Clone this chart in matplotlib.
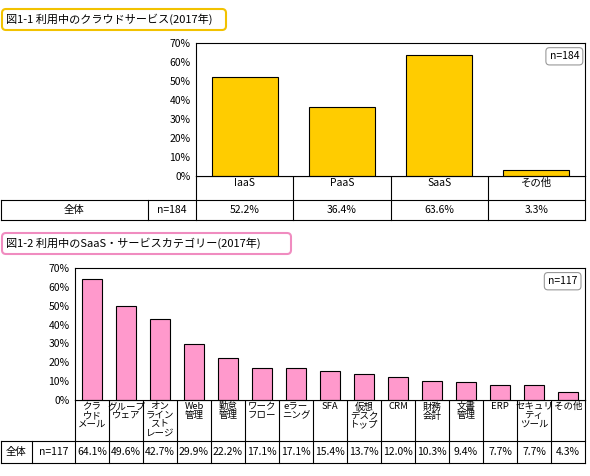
import matplotlib
matplotlib.use("Agg")
import matplotlib.pyplot as plt
from matplotlib.patches import FancyBboxPatch

plt.rcParams['font.family'] = ['Noto Sans CJK JP', 'DejaVu Sans']

cats1 = ["IaaS", "PaaS", "SaaS", "その他"]
vals1 = [52.2, 36.4, 63.6, 3.3]
n1 = "n=184"
cats2 = ["クラ\nウド\nメール", "グループ\nウェア", "オン\nライン\nスト\nレージ", "Web\n管理", "勤怠\n管理",
         "ワーク\nフロー", "eラー\nニング", "SFA", "仮想\nデスク\nトップ", "CRM", "財務\n会計", "文書\n管理",
         "ERP", "セキュリ\nティ\nツール", "その他"]
vals2 = [64.1, 49.6, 42.7, 29.9, 22.2, 17.1, 17.1, 15.4, 13.7, 12.0, 10.3, 9.4, 7.7, 7.7, 4.3]
n2 = "n=117"
yticks = [0, 10, 20, 30, 40, 50, 60, 70]

W, H = 590, 476
fig = plt.figure(figsize=(5.9, 4.76), dpi=100)
bg = fig.add_axes([0, 0, 1, 1])
bg.set_xlim(0, W); bg.set_ylim(H, 0); bg.axis('off')

def ax_at(x0, y0, x1, y1):
    return fig.add_axes([x0 / W, 1 - y1 / H, (x1 - x0) / W, (y1 - y0) / H])

def hline(y, x0, x1):
    bg.plot([x0, x1], [y, y], color='black', lw=0.8)
def vline(x, y0, y1):
    bg.plot([x, x], [y0, y1], color='black', lw=0.8)

fs = 7.5

def panel(title, tcolor, tbox, cats, vals, n, ax_box, lab_bottom, tab_bottom, left_cols, color, barw, catfs):
    x0, y0, x1, y1 = tbox
    bg.add_patch(FancyBboxPatch((x0, y0), x1 - x0, y1 - y0, boxstyle="round,pad=0,rounding_size=4",
                                fc='white', ec=tcolor, lw=1.5))
    bg.text(x0 + 4, (y0 + y1) / 2, title, fontsize=8, va='center', ha='left')
    ax0, ay0, ax1, ay1 = ax_box
    ax = ax_at(ax0, ay0, ax1, ay1)
    k = len(cats)
    ax.bar(range(k), vals, width=barw, color=color, edgecolor='black', lw=0.8)
    ax.set_xlim(-0.5, k - 0.5); ax.set_ylim(0, 70)
    ax.set_yticks(yticks)
    ax.set_yticklabels([f"{t}%" for t in yticks], fontsize=fs)
    ax.set_xticks([])
    ax.tick_params(axis='y', length=0, pad=4)
    for s in ax.spines.values():
        s.set_linewidth(0.8)
    ax.text(0.985, 0.9, n, transform=ax.transAxes, ha='right', va='center', fontsize=fs,
            bbox=dict(boxstyle='round,pad=0.35', fc='white', ec='#999999', lw=0.8))
    cw = (ax1 - ax0) / k
    hline(ay1, ax0, ax1)
    hline(lab_bottom, 0.5, ax1)
    hline(tab_bottom, 0.5, ax1)
    vline(0.5, lab_bottom, tab_bottom)
    for i in range(k + 1):
        vline(ax0 + i * cw, ay1, tab_bottom)
    vline(left_cols[0], lab_bottom, tab_bottom)
    for i, (c, v) in enumerate(zip(cats, vals)):
        cx = ax0 + (i + 0.5) * cw
        bg.text(cx, ay1 + 2, c, ha='center', va='top', fontsize=catfs, linespacing=1.0)
        bg.text(cx, (lab_bottom + tab_bottom) / 2, f"{v:.1f}%", ha='center', va='center', fontsize=fs)
    ym = (lab_bottom + tab_bottom) / 2
    bg.text(left_cols[0] / 2, ym, "全体", ha='center', va='center', fontsize=fs)
    bg.text((left_cols[0] + ax0) / 2, ym, n, ha='center', va='center', fontsize=fs)

panel("図1-1 利用中のクラウドサービス(2017年)", '#F2C200', (2, 9, 226, 30),
      cats1, vals1, n1, (196, 43, 585, 176), 200, 220, [148], '#FFCC00', 0.68, fs)
panel("図1-2 利用中のSaaS・サービスカテゴリー(2017年)", '#F08CC0', (2, 233, 291, 254),
      cats2, vals2, n2, (75, 268, 585, 400), 441, 463, [32], '#FF99CC', 0.6, 6.8)

fig.savefig("out.png", dpi=100)
